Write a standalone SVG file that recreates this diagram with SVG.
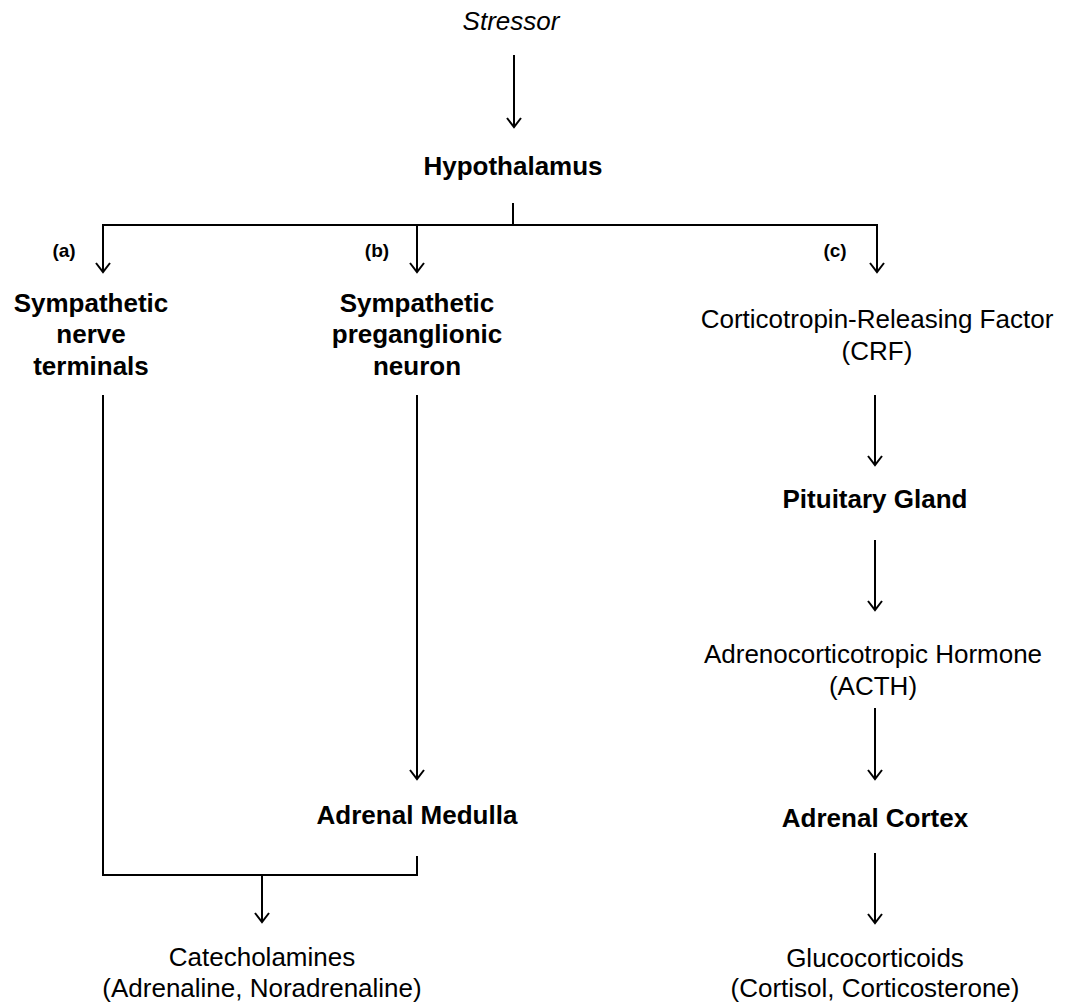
<svg xmlns="http://www.w3.org/2000/svg" width="1065" height="1004" viewBox="0 0 1065 1004">
<defs>
<style>
text{font-family:"Liberation Sans",Arial,sans-serif;font-size:26px;fill:#000;text-anchor:middle}
.b{font-weight:bold}
.i{font-style:italic}
.lbl{font-weight:bold;font-size:19px}
.ln{stroke:#000;stroke-width:2;fill:none}
</style>
<marker id="ah" markerUnits="userSpaceOnUse" markerWidth="20" markerHeight="20" viewBox="-10 -10 20 20" refX="0" refY="0" orient="auto" overflow="visible">
<path d="M-9,-7 L0,0 L-9,7" fill="none" stroke="#000" stroke-width="2"/>
</marker>
</defs>
<rect width="1065" height="1004" fill="#fff"/>
<g id="connectors">
<line class="ln" x1="514" y1="55" x2="514" y2="127" marker-end="url(#ah)"/>
<line class="ln" x1="513" y1="203" x2="513" y2="225"/>
<polyline class="ln" points="103,225 877,225 877,272" marker-end="url(#ah)"/>
<line class="ln" x1="103" y1="224" x2="103" y2="272" marker-end="url(#ah)"/>
<line class="ln" x1="417" y1="225" x2="417" y2="272" marker-end="url(#ah)"/>
<line class="ln" x1="417" y1="395" x2="417" y2="779" marker-end="url(#ah)"/>
<polyline class="ln" points="103,395 103,875 417,875 417,856"/>
<line class="ln" x1="262" y1="875" x2="262" y2="922" marker-end="url(#ah)"/>
<line class="ln" x1="875" y1="395" x2="875" y2="465" marker-end="url(#ah)"/>
<line class="ln" x1="875" y1="540" x2="875" y2="610" marker-end="url(#ah)"/>
<line class="ln" x1="875" y1="708" x2="875" y2="779" marker-end="url(#ah)"/>
<line class="ln" x1="875" y1="853" x2="875" y2="923" marker-end="url(#ah)"/>
</g>
<g id="stressor"><text class="i" x="511" y="30">Stressor</text></g>
<g id="hypothalamus"><text class="b" x="513" y="175">Hypothalamus</text></g>
<g id="label-a"><text class="lbl" x="64" y="257">(a)</text></g>
<g id="label-b"><text class="lbl" x="377" y="257">(b)</text></g>
<g id="label-c"><text class="lbl" x="835" y="257">(c)</text></g>
<g id="sympathetic-nerve-terminals"><text class="b" x="91" y="312">Sympathetic</text><text class="b" x="91" y="343">nerve</text><text class="b" x="91" y="375">terminals</text></g>
<g id="sympathetic-preganglionic-neuron"><text class="b" x="417" y="312">Sympathetic</text><text class="b" x="417" y="343">preganglionic</text><text class="b" x="417" y="375">neuron</text></g>
<g id="crf"><text x="877" y="328">Corticotropin-Releasing Factor</text><text x="877" y="360">(CRF)</text></g>
<g id="pituitary"><text class="b" x="875" y="508">Pituitary Gland</text></g>
<g id="acth"><text x="873" y="663">Adrenocorticotropic Hormone</text><text x="873" y="695">(ACTH)</text></g>
<g id="adrenal-medulla"><text class="b" x="417" y="824">Adrenal Medulla</text></g>
<g id="adrenal-cortex"><text class="b" x="875" y="827">Adrenal Cortex</text></g>
<g id="catecholamines"><text x="262" y="966">Catecholamines</text><text x="262" y="997">(Adrenaline, Noradrenaline)</text></g>
<g id="glucocorticoids"><text x="875" y="967">Glucocorticoids</text><text x="875" y="997">(Cortisol, Corticosterone)</text></g>
</svg>
